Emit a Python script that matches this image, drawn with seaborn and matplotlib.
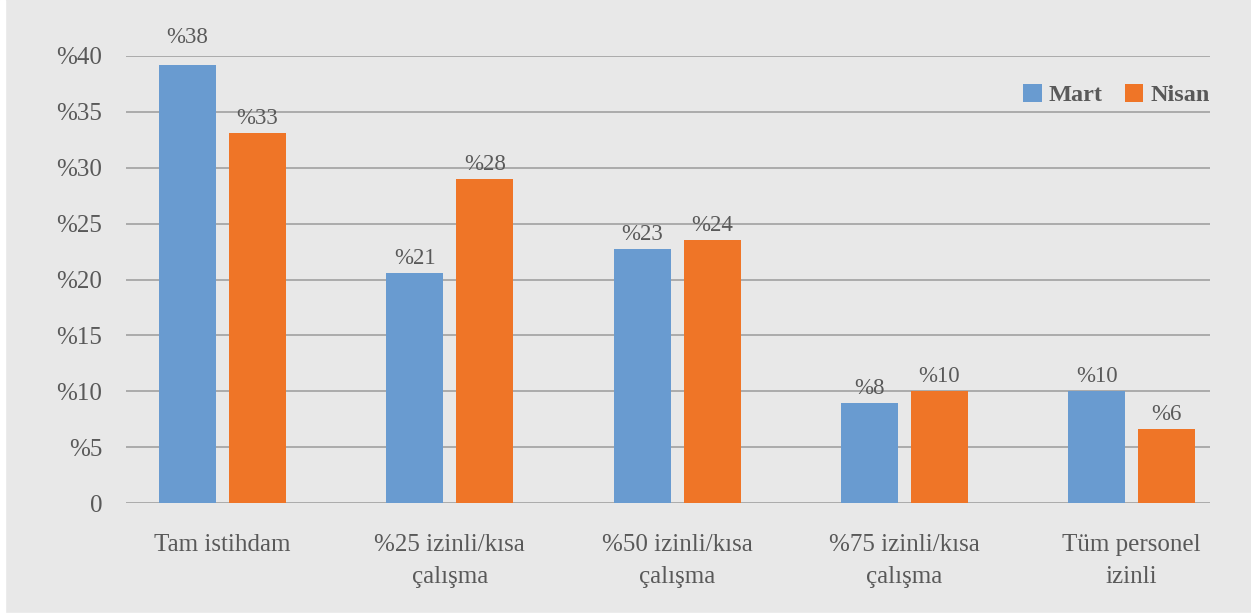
import pandas as pd
import seaborn as sns
import matplotlib.pyplot as plt
from matplotlib.patches import Rectangle

# veriler
kategoriler = ['Tam istihdam', '%25 izinli/kısa\nçalışma', '%50 izinli/kısa\nçalışma',
               '%75 izinli/kısa\nçalışma', 'Tüm personel\nizinli']
mart = [39.2, 20.6, 22.7, 8.95, 10.0]
nisan = [33.1, 29.0, 23.5, 10.0, 6.6]
mart_etiket = ['%38', '%21', '%23', '%8', '%10']
nisan_etiket = ['%33', '%28', '%24', '%10', '%6']
y_ticks = [0, 5, 10, 15, 20, 25, 30, 35, 40]
y_tick_labels = ['0', '%5', '%10', '%15', '%20', '%25', '%30', '%35', '%40']

df = pd.DataFrame({
    'Kategori': kategoriler * 2,
    'Ay': ['Mart'] * len(mart) + ['Nisan'] * len(nisan),
    'Oran': mart + nisan,
})

sns.set_theme(style='white')
plt.rcParams['font.family'] = ['Liberation Serif', 'DejaVu Serif']

gri = '#e8e8e8'
yazi = '#595959'
renkler = {'Mart': '#699bd0', 'Nisan': '#ef7527'}

fig = plt.figure(figsize=(12.51, 6.15), dpi=100)
fig.patch.set_facecolor(gri)
fig.add_artist(Rectangle((0, 0), 5 / 1251, 1, color='white', transform=fig.transFigure, zorder=0))
fig.add_artist(Rectangle((0, 0), 1, 2 / 615, color='white', transform=fig.transFigure, zorder=0))

ax = fig.add_axes([126 / 1251, 112 / 615, 1084 / 1251, 447 / 615])
ax.set_facecolor(gri)

sns.barplot(data=df, x='Kategori', y='Oran', hue='Ay', palette=renkler,
            width=0.616, gap=0.186, ax=ax, saturation=1, linewidth=0, zorder=3)

# değer etiketleri
for i, (cont, etiket) in enumerate(zip(ax.containers, [mart_etiket, nisan_etiket])):
    pads = [3] * len(etiket)
    if i == 0:
        pads[0] = 12
    for bar, lab, p in zip(cont, etiket, pads):
        ax.annotate(lab, (bar.get_x() + bar.get_width() / 2, bar.get_height()),
                    xytext=(0, p), textcoords='offset points', ha='center', va='bottom',
                    fontsize=16.5, color=yazi, annotation_clip=False)

ax.set_ylim(0, 40)
ax.set_xlim(-0.4246, 4.345)
ax.set_yticks(y_ticks)
ax.set_yticklabels(y_tick_labels)
ax.yaxis.grid(True, color='#a6a6a6', linewidth=1.3)
ax.set_axisbelow(True)
for s in ax.spines.values():
    s.set_visible(False)
ax.tick_params(axis='y', length=0, pad=17, labelsize=18, labelcolor=yazi)
ax.tick_params(axis='x', length=0, pad=22, labelsize=18, labelcolor=yazi)
for t in ax.get_xticklabels():
    t.set_linespacing(1.6)
ax.set_xlabel('')
ax.set_ylabel('')

leg = ax.legend(loc='center right', bbox_to_anchor=(1.0, 0.913), ncol=2, frameon=False,
                handlelength=0.76, handleheight=0.76, handletextpad=0.3, columnspacing=0.9,
                borderpad=0, borderaxespad=0, prop={'weight': 'bold', 'size': 17.5})
for t in leg.get_texts():
    t.set_color(yazi)

fig.savefig('out.png', dpi=100, facecolor=fig.get_facecolor())
